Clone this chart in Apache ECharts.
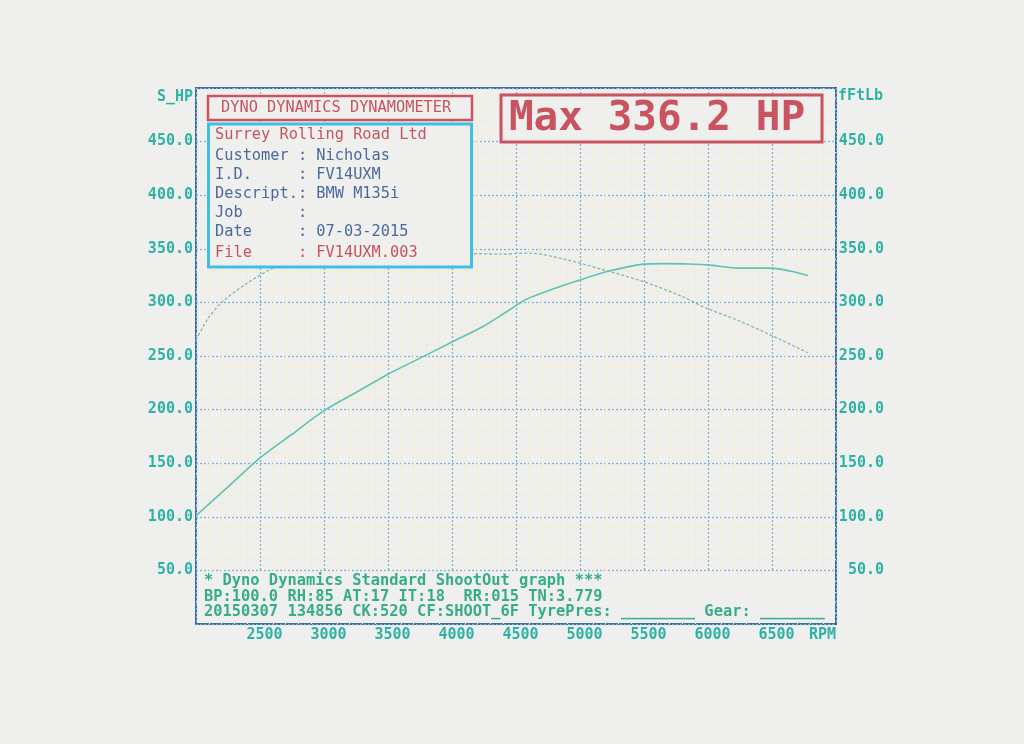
<!DOCTYPE html>
<html><head><meta charset="utf-8">
<script src="https://cdn.jsdelivr.net/npm/echarts/dist/echarts.min.js"></script>
<style>html,body{margin:0;padding:0;background:#efefee}#c{width:1024px;height:744px}</style>
</head><body><div id="c"></div>
<script>
// ---- data ----
const rpmRange = [2000, 7000];
const rpmInterval = 500;
const valueRange = [0, 500];
const valueInterval = 50;

const powerRpm = [2000, 2250, 2500, 2750, 3000, 3250, 3500, 3750, 4000, 4250, 4370, 4500, 4580, 4800, 5000, 5220, 5480, 5670, 5850, 6000, 6240, 6500, 6650, 6780];
const powerHp  = [101, 128, 155, 177, 199, 216, 233, 248, 263, 278, 287, 297, 303, 313, 321, 329, 335.5, 336.2, 335.8, 335, 332, 332, 329, 325];

const torqueRpm = [2000, 2100, 2210, 2400, 2600, 2710, 3000, 3500, 4000, 4130, 4370, 4600, 4890, 5150, 5480, 5790, 5980, 6240, 6490, 6780];
const torqueLb  = [265, 286, 301, 318, 332, 337, 340, 343, 345, 345.5, 345, 346, 340, 331.5, 320, 306, 295, 283, 269.5, 253];

const headerTitle = 'DYNO DYNAMICS DYNAMOMETER';
const maxLabel = 'Max 336.2 HP';
const infoLines = [
  {t: 'Surrey Rolling Road Ltd', red: true},
  {t: 'Customer : Nicholas'},
  {t: 'I.D.     : FV14UXM'},
  {t: 'Descript.: BMW M135i'},
  {t: 'Job      :'},
  {t: 'Date     : 07-03-2015'},
  {t: 'File     : FV14UXM.003', red: true}
];
const footerLines = [
  '* Dyno Dynamics Standard ShootOut graph ***',
  'BP:100.0 RH:85 AT:17 IT:18  RR:015 TN:3.779',
  '20150307 134856 CK:520 CF:SHOOT_6F TyrePres: ________ Gear: _______'
];

// ---- style ----
const BG = '#efefee';
const FONT = 'DejaVu Sans Mono';
const TEAL = '#2fb2a6';
const RED = '#c9535e';
const BLUE = '#4a6a9e';
const GREEN = '#36ad8a';
const FRAME = '#3a6aa3';
const GRIDC = '#7fb2d2';

const chart = echarts.init(document.getElementById('c'), null, {renderer: 'canvas'});

function txt(x, y, text, color, size, weight, align) {
  return {
    type: 'text', z: 20, silent: true,
    style: {x: x, y: y, text: text, fill: color,
      font: (weight || 'normal') + ' ' + size + 'px "' + FONT + '"',
      align: align || 'left', verticalAlign: 'middle',
      textAlign: align || 'left', textVerticalAlign: 'middle'}
  };
}

const infoY = [135, 156, 175, 194, 213, 232, 253];
const footY = [581, 597, 612];

const graphics = [
  {type: 'rect', z: 5, silent: true, shape: {x: 197.5, y: 572, width: 637, height: 50.5}, style: {fill: BG}},
  {type: 'rect', z: 10, silent: true, shape: {x: 208, y: 96, width: 264, height: 24}, style: {fill: BG, stroke: RED, lineWidth: 2.5}},
  {type: 'rect', z: 10, silent: true, shape: {x: 208.5, y: 124, width: 263, height: 143}, style: {fill: BG, stroke: '#3fbfe6', lineWidth: 3}},
  {type: 'rect', z: 10, silent: true, shape: {x: 501, y: 95, width: 321, height: 47}, style: {fill: BG, stroke: RED, lineWidth: 3}},
  txt(221, 108.5, headerTitle, RED, 15.3),
  txt(657, 119, maxLabel, RED, 41, 'bold', 'center')
];
infoLines.forEach((l, i) => graphics.push(txt(215, infoY[i], l.t, l.red ? RED : BLUE, 15.3)));
footerLines.forEach((l, i) => graphics.push(txt(204, footY[i], l, GREEN, 15.4, 'bold')));

const axisFont = {fontFamily: FONT, fontSize: 15, fontWeight: 'bold', color: TEAL};

chart.setOption({
  animation: false,
  backgroundColor: BG,
  grid: {left: 196, top: 88, width: 640, height: 536, show: true, borderColor: FRAME, borderWidth: 2, backgroundColor: 'transparent'},
  xAxis: {
    type: 'value', min: rpmRange[0], max: rpmRange[1], interval: rpmInterval,
    axisLine: {show: false}, axisTick: {show: false},
    axisLabel: Object.assign({margin: 4, showMinLabel: false, showMaxLabel: false, padding: [0, 0, 0, 9],
      formatter: v => (v === rpmRange[0] || v === rpmRange[1]) ? '' : String(v)}, axisFont),
    splitLine: {show: true, lineStyle: {color: GRIDC, type: [2, 2], width: 1.3}},
    minorTick: {show: false, splitNumber: 5},
    minorSplitLine: {show: true, lineStyle: {color: '#efedd2', width: 1}},
    name: 'RPM', nameLocation: 'end', nameGap: 0,
    nameTextStyle: Object.assign({align: 'right', verticalAlign: 'top', padding: [4, 0, 0, 0]}, axisFont)
  },
  yAxis: [{
    type: 'value', min: valueRange[0], max: valueRange[1], interval: valueInterval,
    axisLine: {show: false}, axisTick: {show: false},
    axisLabel: Object.assign({margin: 3, formatter: v => (v === valueRange[0] || v === valueRange[1]) ? '' : v.toFixed(1)}, axisFont),
    splitLine: {show: true, lineStyle: {color: GRIDC, type: [2, 2], width: 1.3}},
    minorTick: {show: false, splitNumber: 5},
    minorSplitLine: {show: true, lineStyle: {color: '#efedd2', width: 1}},
    name: 'S_HP', nameLocation: 'end', nameGap: -9,
    nameTextStyle: Object.assign({align: 'right', verticalAlign: 'middle', padding: [0, 3, 0, 0]}, axisFont)
  }, {
    type: 'value', position: 'right', min: valueRange[0], max: valueRange[1], interval: valueInterval,
    axisLine: {show: false}, axisTick: {show: false},
    axisLabel: Object.assign({margin: 48, align: 'right', padding: [0, 0, 4, 0],
      formatter: v => (v === valueRange[0] || v === valueRange[1]) ? '' : v.toFixed(1)}, axisFont),
    splitLine: {show: false},
    name: 'fFtLb', nameLocation: 'end', nameGap: -8,
    nameTextStyle: Object.assign({align: 'left', verticalAlign: 'middle', padding: [0, 0, 0, 2]}, axisFont)
  }],
  series: [{
    name: 'S_HP', type: 'line', yAxisIndex: 0, showSymbol: false, smooth: 0.25, z: 3,
    data: powerRpm.map((r, i) => [r, powerHp[i]]),
    lineStyle: {color: '#5ec3b3', width: 1.6}
  }, {
    name: 'fFtLb', type: 'line', yAxisIndex: 1, showSymbol: false, smooth: 0.3, z: 3,
    data: torqueRpm.map((r, i) => [r, torqueLb[i]]),
    lineStyle: {color: '#86b6b0', width: 1.3, type: [3, 2]}
  }],
  graphic: graphics
});
</script></body></html>
